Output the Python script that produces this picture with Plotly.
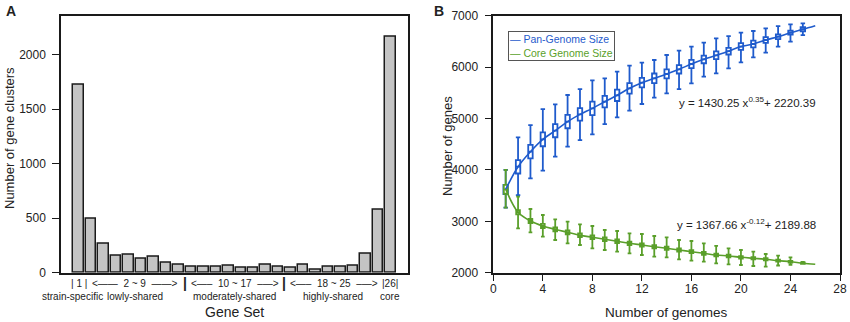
import plotly.graph_objects as go

# ---------------- Panel A data ----------------
gene_set = list(range(1, 27))
gene_clusters = [1722, 494, 265, 155, 162, 128, 143, 88, 73, 55, 52, 52, 64,
                 43, 43, 73, 52, 46, 76, 27, 52, 52, 67, 171, 582, 2168]
a_yticks = [0, 500, 1000, 1500, 2000]
group_ranges = ["| 1 |", "&lt;\u2014\u2014  2 ~ 9  \u2014\u2014&gt;", "&lt;\u2014\u2013  10 ~ 17  \u2013\u2014&gt;",
                "&lt;\u2014\u2013  18 ~ 25  \u2013\u2014&gt;", "|26|"]
group_names = ["strain-specific", "lowly-shared", "moderately-shared", "highly-shared", "core"]
group_centers = [1, 5.5, 13.5, 21.5, 26]
group_name_pos = [0.5, 5.5, 13.5, 21.4, 26]
group_separators = [9.5, 17.5]

# ---------------- Panel B data ----------------
n_genomes = list(range(1, 26))
fit_x = list(range(1, 27))
pan_median = [3620, 4062, 4354, 4594, 4763, 4938, 5080, 5197, 5327, 5451, 5588, 5697, 5782,
              5866, 5957, 6060, 6152, 6229, 6310, 6400, 6449, 6527, 6591, 6669, 6735]
pan_q3 = [3710, 4190, 4485, 4730, 4890, 5070, 5200, 5330, 5440, 5560, 5690, 5790, 5875,
          5955, 6040, 6140, 6225, 6305, 6375, 6465, 6515, 6585, 6635, 6710, 6775]
pan_q1 = [3530, 3930, 4225, 4460, 4635, 4810, 4960, 5065, 5215, 5340, 5485, 5605, 5690,
          5780, 5875, 5980, 6075, 6155, 6245, 6335, 6385, 6470, 6545, 6630, 6695]
pan_upper = [4000, 4633, 4873, 5184, 5275, 5457, 5573, 5742, 5781, 5911, 6027, 6086, 6138,
             6235, 6319, 6397, 6475, 6559, 6604, 6669, 6702, 6754, 6799, 6831, 6851]
pan_lower = [3265, 3511, 3835, 3984, 4257, 4451, 4581, 4691, 4892, 5022, 5152, 5282, 5405,
             5489, 5573, 5684, 5813, 5878, 5975, 6092, 6189, 6280, 6397, 6494, 6624]
pan_fit = [3620, 4062, 4354, 4594, 4763, 4938, 5080, 5197, 5327, 5451, 5588, 5697, 5782,
           5866, 5957, 6060, 6152, 6229, 6310, 6400, 6449, 6527, 6591, 6669, 6735, 6805]

core_median = [3623, 3175, 3006, 2909, 2844, 2786, 2728, 2689, 2650, 2611, 2572, 2539, 2506,
               2475, 2442, 2409, 2377, 2344, 2325, 2300, 2280, 2261, 2234, 2214, 2185]
core_q3 = [3710, 3215, 3045, 2948, 2882, 2824, 2765, 2725, 2686, 2646, 2606, 2572, 2538,
           2506, 2472, 2438, 2405, 2371, 2350, 2324, 2302, 2282, 2253, 2230, 2198]
core_q1 = [3536, 3135, 2967, 2870, 2806, 2748, 2691, 2653, 2614, 2576, 2538, 2506, 2474,
           2444, 2412, 2380, 2349, 2317, 2300, 2276, 2258, 2240, 2215, 2198, 2172]
core_upper = [3998, 3479, 3239, 3123, 3038, 2992, 2942, 2909, 2831, 2811, 2767, 2753, 2714,
              2689, 2636, 2617, 2572, 2520, 2475, 2442, 2409, 2364, 2331, 2300, 2208]
core_lower = [3265, 2864, 2786, 2700, 2636, 2572, 2539, 2475, 2442, 2409, 2377, 2344, 2312,
              2300, 2261, 2234, 2214, 2183, 2163, 2150, 2130, 2117, 2140, 2155, 2170]
core_fit = [3623, 3175, 3006, 2909, 2844, 2786, 2728, 2689, 2650, 2611, 2572, 2539, 2506,
            2475, 2442, 2409, 2377, 2344, 2325, 2300, 2280, 2261, 2234, 2214, 2185, 2163]
b_xticks = [0, 4, 8, 12, 16, 20, 24, 28]
b_yticks = [2000, 3000, 4000, 5000, 6000, 7000]

BLUE = "#1f5bcc"
GREEN = "#5a9f2a"
FONT = "Liberation Sans, Arial, sans-serif"
INK = "#222"

fig = go.Figure()

fig.add_trace(go.Bar(
    x=gene_set, y=gene_clusters, width=0.84,
    marker=dict(color="#c4c4c4", line=dict(color="#1a1a1a", width=1.5)),
    xaxis="x", yaxis="y", showlegend=False))

fig.add_trace(go.Scatter(x=fit_x, y=pan_fit, mode="lines", line=dict(color=BLUE, width=1.6, shape="spline"),
                         xaxis="x2", yaxis="y2", showlegend=False))
fig.add_trace(go.Scatter(x=fit_x, y=core_fit, mode="lines", line=dict(color=GREEN, width=1.6, shape="spline"),
                         xaxis="x2", yaxis="y2", showlegend=False))

fig.add_trace(go.Box(x=n_genomes, q1=pan_q1, median=pan_median, q3=pan_q3,
                     lowerfence=pan_lower, upperfence=pan_upper, width=0.36, whiskerwidth=1,
                     line=dict(color=BLUE, width=1.8), fillcolor="white",
                     xaxis="x2", yaxis="y2", showlegend=False, boxpoints=False))
fig.add_trace(go.Box(x=n_genomes, q1=core_q1, median=core_median, q3=core_q3,
                     lowerfence=core_lower, upperfence=core_upper, width=0.3, whiskerwidth=1,
                     line=dict(color=GREEN, width=1.8), fillcolor="white",
                     xaxis="x2", yaxis="y2", showlegend=False, boxpoints=False))

tickfont = dict(family=FONT, size=12, color=INK)
ydom = [1 - 272.7 / 322, 1 - 15.7 / 322]


def ann(x, y, text, size, xref="paper", yref="paper", **kw):
    d = dict(x=x, y=y, xref=xref, yref=yref, text=text, showarrow=False,
             xanchor="center", yanchor="middle", font=dict(family=FONT, size=size, color=INK))
    d.update(kw)
    return d


annotations = []
for t, xc in zip(group_ranges, group_centers):
    annotations.append(ann(xc, 1 - 283 / 322, t, 10, xref="x"))
for xs in group_separators:
    annotations.append(ann(xs, 1 - 283 / 322, "<b>|</b>", 14, xref="x"))
for t, xc in zip(group_names, group_name_pos):
    annotations.append(ann(xc, 1 - 296 / 322, t, 10, xref="x"))
annotations += [
    ann(13.5, 1 - 312 / 322, "Gene Set", 14, xref="x"),
    ann(9 / 850, 1 - 138 / 322, "Number of gene clusters", 13, textangle=-90),
    ann(14, 1 - 312 / 322, "Number of genomes", 13.5, xref="x2"),
    ann(447 / 850, 1 - 146 / 322, "Number of genes", 13, textangle=-90),
    ann(26.2, 5321, "y = 1430.25 x<sup>0.35</sup>+ 2220.39", 11.5, xref="x2", yref="y2", xanchor="right"),
    ann(26.2, 2947, "y = 1367.66 x<sup>-0.12</sup>+ 2189.88", 11.5, xref="x2", yref="y2", xanchor="right"),
    dict(x=508 / 850, y=1 - 31 / 322, xref="paper", yref="paper", xanchor="left", yanchor="top", align="left",
         showarrow=False, bordercolor="#555", borderwidth=1, borderpad=1, bgcolor="white",
         text=f"<span style='color:{BLUE}'>\u2014 Pan-Genome Size</span><br>"
              f"<span style='color:{GREEN}'>\u2014 Core Genome Size</span>",
         font=dict(family=FONT, size=10.5)),
    ann(4 / 850, 1 - 1 / 322, "<b>A</b>", 14, xanchor="left", yanchor="top"),
    ann(432 / 850, 1 - 1 / 322, "<b>B</b>", 14, xanchor="left", yanchor="top"),
]

axis_common = dict(showgrid=False, zeroline=False, showline=True, linecolor="#1a1a1a", linewidth=1.5,
                   mirror=True, automargin=False)

fig.update_layout(
    width=850, height=322, margin=dict(l=0, r=0, t=0, b=0, autoexpand=False),
    paper_bgcolor="white", plot_bgcolor="white", boxmode="overlay", bargap=0,
    xaxis=dict(domain=[61 / 850, 408 / 850], range=[-0.42, 27.42], showticklabels=False, ticks="",
               **axis_common),
    yaxis=dict(domain=ydom, range=[0, 2358], tickvals=a_yticks, ticks="outside", ticklen=7, tickwidth=1.2,
               tickcolor="#1a1a1a", tickfont=tickfont, ticklabelstandoff=4, **axis_common),
    xaxis2=dict(domain=[493.3 / 850, 840 / 850], range=[0, 28], tickvals=b_xticks, ticks="outside", ticklen=7,
                tickwidth=1.2, tickcolor="#1a1a1a", tickfont=tickfont, ticklabelstandoff=-3, anchor="y2",
                **axis_common),
    yaxis2=dict(domain=ydom, range=[2000, 7000], tickvals=b_yticks, ticks="outside", ticklen=7, tickwidth=1.2,
                tickcolor="#1a1a1a", tickfont=tickfont, ticklabelstandoff=4, anchor="x2", **axis_common),
    annotations=annotations,
)

fig.write_html("out.html", config={"displayModeBar": False},
               post_script="document.body.style.margin='0px';")
